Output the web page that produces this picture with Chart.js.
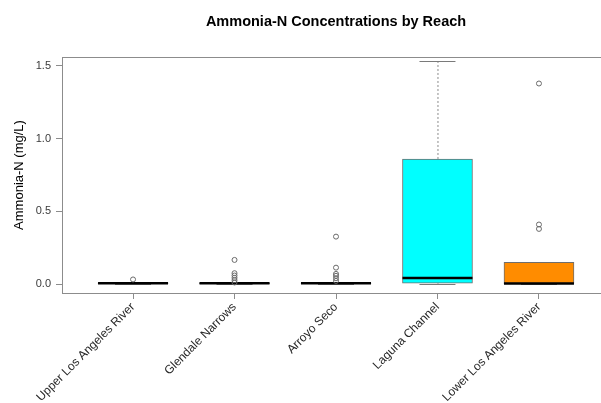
<!DOCTYPE html>
<html>
<head>
<meta charset="utf-8">
<script src="https://cdn.jsdelivr.net/npm/chart.js@4.4.1/dist/chart.umd.min.js"></script>
<style>
  html, body { margin: 0; padding: 0; background: #ffffff; overflow: hidden; }
  #wrap { width: 601px; height: 403px; overflow: hidden; }
  canvas { display: block; }
</style>
</head>
<body>
<div id="wrap"><canvas id="chart" width="615" height="403"></canvas></div>
<script>
// Reaches along the river and their box-plot summaries (mg/L)
const reaches = ["Upper Los Angeles River", "Glendale Narrows", "Arroyo Seco", "Laguna Channel", "Lower Los Angeles River"];
const positions = [1, 2, 3, 4, 5];
const q1Values = [0.004, 0.004, 0.004, 0.007, 0.005];
const medianValues = [0.007, 0.007, 0.007, 0.043, 0.005];
const q3Values = [0.010, 0.010, 0.010, 0.860, 0.151];
const whiskerLow = [0.000, 0.004, 0.004, 0.000, 0.005];
const whiskerHigh = [0.016, 0.010, 0.010, 1.530, 0.151];
const outliers = [
  [0.033],
  [0.167, 0.076, 0.060, 0.044, 0.028, 0.012],
  [0.327, 0.114, 0.071, 0.058, 0.041, 0.023],
  [],
  [1.378, 0.410, 0.380]
];
const boxColors = ["#ff0000", "#00cd00", "#0000ff", "#00ffff", "#ff8c00"];
const yTickValues = [0.0, 0.5, 1.0, 1.5];

const boxData = positions.map((p, i) => ({ x: p, y: [q1Values[i], q3Values[i]] }));
const outlierData = [];
outliers.forEach((list, i) => list.forEach(v => outlierData.push({ x: positions[i], y: v })));

const BOX_WIDTH = 70;
const STAPLE_WIDTH = 36;

// Whiskers and staples sit behind the boxes
const whiskerPlugin = {
  id: 'whiskers',
  beforeDatasetsDraw(chart) {
    const { ctx, scales: { x, y } } = chart;
    ctx.save();
    positions.forEach((p, i) => {
      const cx = x.getPixelForValue(p);
      const yLo = y.getPixelForValue(whiskerLow[i]);
      const yHi = y.getPixelForValue(whiskerHigh[i]);
      const yQ1 = y.getPixelForValue(q1Values[i]);
      const yQ3 = y.getPixelForValue(q3Values[i]);
      ctx.strokeStyle = '#8a8a8a';
      ctx.lineWidth = 1;
      ctx.setLineDash([2, 2]);
      ctx.beginPath();
      ctx.moveTo(cx + 0.5, yQ3);
      ctx.lineTo(cx + 0.5, yHi);
      ctx.moveTo(cx + 0.5, yQ1);
      ctx.lineTo(cx + 0.5, yLo);
      ctx.stroke();
      ctx.setLineDash([]);
      ctx.strokeStyle = '#7a7a7a';
      ctx.beginPath();
      ctx.moveTo(cx - STAPLE_WIDTH / 2, Math.round(yHi) + 0.5);
      ctx.lineTo(cx + STAPLE_WIDTH / 2, Math.round(yHi) + 0.5);
      ctx.moveTo(cx - STAPLE_WIDTH / 2, Math.round(yLo) + 0.5);
      ctx.lineTo(cx + STAPLE_WIDTH / 2, Math.round(yLo) + 0.5);
      ctx.stroke();
    });
    ctx.restore();
  },
  // Median bars drawn right after the boxes
  afterDatasetDraw(chart, args) {
    if (args.index !== 0) return;
    const { ctx, scales: { x, y } } = chart;
    ctx.save();
    ctx.strokeStyle = '#000000';
    ctx.lineWidth = 2.5;
    positions.forEach((p, i) => {
      const cx = x.getPixelForValue(p);
      const ym = y.getPixelForValue(medianValues[i]);
      ctx.beginPath();
      ctx.moveTo(cx - BOX_WIDTH / 2, ym);
      ctx.lineTo(cx + BOX_WIDTH / 2, ym);
      ctx.stroke();
    });
    ctx.restore();
  },
  // Frame around the plotting region
  afterDraw(chart) {
    const { ctx, chartArea: a } = chart;
    ctx.save();
    ctx.strokeStyle = '#8c8c8c';
    ctx.lineWidth = 1;
    ctx.strokeRect(Math.round(a.left) + 0.5, Math.round(a.top) + 0.5, Math.round(a.right - a.left), Math.round(a.bottom - a.top));
    ctx.restore();
  }
};

new Chart(document.getElementById('chart'), {
  type: 'bar',
  data: {
    datasets: [
      {
        type: 'bar',
        data: boxData,
        backgroundColor: boxColors,
        borderColor: '#6e6e6e',
        borderWidth: 1,
        borderSkipped: false,
        barThickness: BOX_WIDTH,
        order: 2
      },
      {
        type: 'scatter',
        data: outlierData,
        pointStyle: 'circle',
        pointRadius: 2.5,
        pointBorderWidth: 1,
        pointBorderColor: '#6a6a6a',
        pointBackgroundColor: 'rgba(255,255,255,0)',
        order: 1
      }
    ]
  },
  options: {
    responsive: false,
    animation: false,
    devicePixelRatio: 1,
    layout: { padding: 0 },
    plugins: {
      legend: { display: false },
      tooltip: { enabled: false },
      title: {
        display: true,
        text: 'Ammonia-N Concentrations by Reach',
        fullSize: false,
        color: '#000000',
        font: { family: '"Liberation Sans", Arial, sans-serif', size: 14.5, weight: 'bold' },
        padding: { top: 13.5, bottom: 26.1 }
      }
    },
    scales: {
      x: {
        type: 'linear',
        min: 0.3,
        max: 5.7,
        offset: false,
        afterBuildTicks(scale) { scale.ticks = positions.map(v => ({ value: v })); },
        afterFit(scale) { scale.height = 110; },
        grid: { offset: false, drawOnChartArea: false, drawTicks: true, tickLength: 6, color: '#8c8c8c' },
        border: { display: false },
        ticks: {
          autoSkip: false,
          minRotation: 45,
          maxRotation: 45,
          padding: 1,
          color: '#262626',
          font: { family: '"Liberation Sans", Arial, sans-serif', size: 12 },
          callback: (v) => reaches[positions.indexOf(v)] || ''
        }
      },
      y: {
        type: 'linear',
        min: -0.06,
        max: 1.56,
        afterBuildTicks(scale) { scale.ticks = yTickValues.map(v => ({ value: v })); },
        afterFit(scale) { scale.width = 62; },
        grid: { drawOnChartArea: false, drawTicks: true, tickLength: 6, color: '#8c8c8c' },
        border: { display: false },
        title: {
          display: true,
          text: 'Ammonia-N (mg/L)',
          color: '#000000',
          font: { family: '"Liberation Sans", Arial, sans-serif', size: 13 },
          padding: { top: 12, bottom: 0 }
        },
        ticks: {
          padding: 5,
          color: '#3a3a3a',
          font: { family: '"Liberation Sans", Arial, sans-serif', size: 11 },
          callback: (v) => Number(v).toFixed(1)
        }
      }
    }
  },
  plugins: [whiskerPlugin]
});
</script>
</body>
</html>
